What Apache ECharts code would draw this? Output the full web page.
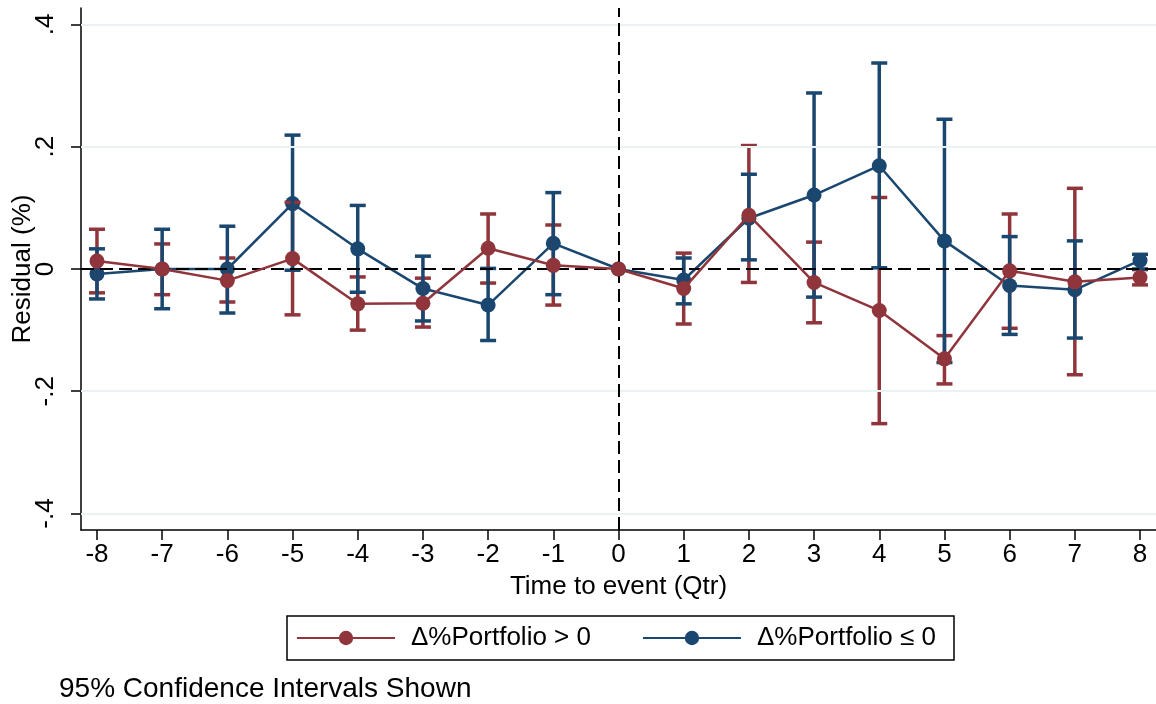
<!DOCTYPE html>
<html lang="en">
<head>
    <meta charset="UTF-8">
    <title>Residual around event</title>
    <script src="https://cdn.jsdelivr.net/npm/echarts@6/dist/echarts.min.js"></script>
    <style>
        body { margin: 0; background: #fff; }
        #main { width: 1156px; height: 704px; }
    </style>
</head>
<body>
<div id="main"></div>
<script>
    // quarters relative to the event
    var quarters = [-8, -7, -6, -5, -4, -3, -2, -1, 0, 1, 2, 3, 4, 5, 6, 7, 8];

    // Δ%Portfolio > 0  (point estimate, 95% CI low / high)
    var redMean = [0.013, 0, -0.019, 0.017, -0.057, -0.056, 0.034, 0.006, 0, -0.032, 0.088, -0.022, -0.068, -0.147, -0.003, -0.021, -0.014];
    var redLo   = [-0.039, -0.042, -0.054, -0.075, -0.100, -0.095, -0.023, -0.059, 0, -0.090, -0.022, -0.088, -0.253, -0.188, -0.097, -0.173, -0.026];
    var redHi   = [0.065, 0.041, 0.018, 0.109, -0.013, -0.015, 0.090, 0.072, 0, 0.026, 0.202, 0.044, 0.117, -0.109, 0.090, 0.132, -0.001];

    // Δ%Portfolio ≤ 0
    var blueMean = [-0.008, 0, 0, 0.107, 0.033, -0.032, -0.059, 0.042, 0, -0.018, 0.083, 0.121, 0.169, 0.046, -0.027, -0.034, 0.014];
    var blueLo   = [-0.049, -0.065, -0.072, -0.002, -0.038, -0.085, -0.117, -0.042, 0, -0.057, 0.015, -0.046, 0.002, -0.153, -0.107, -0.113, 0.000];
    var blueHi   = [0.033, 0.065, 0.070, 0.219, 0.104, 0.021, 0.001, 0.125, 0, 0.018, 0.155, 0.288, 0.337, 0.245, 0.053, 0.046, 0.024];

    var yTicks = [-0.4, -0.2, 0, 0.2, 0.4];
    var yTickLabels = ['-.4', '-.2', '0', '.2', '.4'];
    var gridValues = [-0.4, -0.2, 0.2, 0.4];

    var redName = 'Δ%Portfolio > 0';
    var blueName = 'Δ%Portfolio ≤ 0';
    var red = '#90353B';
    var blue = '#1A476F';
    var font = '"Liberation Sans", Arial, sans-serif';

    function pairs(xs, ys) {
        return xs.map(function (x, i) { return [x, ys[i]]; });
    }
    function ciData(lo, hi) {
        return quarters.map(function (x, i) { return [x, lo[i], hi[i]]; });
    }

    // error bar with caps
    function capRender(color) {
        return function (params, api) {
            var lo = api.value(1), hi = api.value(2);
            if (lo === hi) return;
            var p1 = api.coord([api.value(0), lo]);
            var p2 = api.coord([api.value(0), hi]);
            var w = 8;
            var style = { stroke: color, lineWidth: 3.5 };
            return {
                type: 'group',
                children: [
                    { type: 'line', shape: { x1: p1[0], y1: p1[1], x2: p2[0], y2: p2[1] }, style: style },
                    { type: 'line', shape: { x1: p1[0] - w, y1: p1[1], x2: p1[0] + w, y2: p1[1] }, style: style },
                    { type: 'line', shape: { x1: p2[0] - w, y1: p2[1], x2: p2[0] + w, y2: p2[1] }, style: style }
                ]
            };
        };
    }

    var myChart = echarts.init(document.getElementById('main'));

    var option = {
        animation: false,
        textStyle: { fontFamily: font },
        title: {
            text: '95% Confidence Intervals Shown',
            left: 59,
            top: 675,
            padding: 0,
            textStyle: { fontFamily: font, fontSize: 28, fontWeight: 'normal', color: '#000' }
        },
        legend: {
            data: [redName, blueName],
            left: 287,
            top: 616,
            padding: [9, 18, 9, 9],
            borderColor: '#000',
            borderWidth: 1.5,
            itemWidth: 98,
            itemHeight: 18,
            itemGap: 51,
            textStyle: { fontFamily: font, fontSize: 26, color: '#000', padding: [0, 0, 0, 11] }
        },
        grid: {
            left: 81,
            right: 0,
            top: 8,
            bottom: 174,
            outerBoundsMode: 'none',
            containLabel: false
        },
        xAxis: {
            type: 'value',
            min: -8.245,
            max: 8.245,
            name: 'Time to event (Qtr)',
            nameLocation: 'middle',
            nameGap: 44,
            nameMoveOverlap: false,
            nameTextStyle: { fontFamily: font, fontSize: 26, color: '#000' },
            axisLine: { onZero: false, lineStyle: { color: '#000', width: 1.5 } },
            axisTick: { show: true, length: 10, customValues: quarters, lineStyle: { color: '#000', width: 1.5 } },
            axisLabel: {
                customValues: quarters,
                margin: 12,
                fontSize: 26,
                color: '#000',
                fontFamily: font
            },
            splitLine: { show: false }
        },
        yAxis: {
            type: 'value',
            min: -0.427,
            max: 0.427,
            name: 'Residual (%)',
            nameLocation: 'middle',
            nameGap: 45,
            nameRotate: 90,
            nameMoveOverlap: false,
            nameTextStyle: { fontFamily: font, fontSize: 26, color: '#000' },
            axisLine: { onZero: false, lineStyle: { color: '#000', width: 1.5 } },
            axisTick: { show: true, length: 10, customValues: yTicks, lineStyle: { color: '#000', width: 1.5 } },
            axisLabel: {
                customValues: yTicks,
                rotate: 90,
                margin: 22,
                fontSize: 26,
                color: '#000',
                fontFamily: font,
                formatter: function (v) {
                    var i = yTicks.findIndex(function (t) { return Math.abs(t - v) < 1e-9; });
                    return i >= 0 ? yTickLabels[i] : '';
                }
            },
            splitLine: { show: false }
        },
        series: [
            {
                name: blueName,
                type: 'line',
                z: 2,
                data: pairs(quarters, blueMean),
                symbol: 'circle',
                symbolSize: 15,
                itemStyle: { color: blue },
                lineStyle: { color: blue, width: 2.5 },
                markLine: {
                    silent: true,
                    symbol: 'none',
                    label: { show: false },
                    data: gridValues.map(function (v) {
                        return { yAxis: v, lineStyle: { color: '#EAF2F3', width: 2, type: 'solid' } };
                    }).concat([
                        { yAxis: 0, lineStyle: { color: '#000', width: 2, type: [13, 6] } },
                        { xAxis: 0, lineStyle: { color: '#000', width: 2, type: [13, 6] } }
                    ])
                }
            },
            {
                name: 'redCI',
                type: 'custom',
                z: 3,
                data: ciData(redLo, redHi),
                encode: { x: 0, y: [1, 2] },
                renderItem: capRender(red)
            },
            {
                name: 'blueCI',
                type: 'custom',
                z: 4,
                data: ciData(blueLo, blueHi),
                encode: { x: 0, y: [1, 2] },
                renderItem: capRender(blue)
            },
            {
                name: redName,
                type: 'line',
                z: 5,
                data: pairs(quarters, redMean),
                symbol: 'circle',
                symbolSize: 15,
                itemStyle: { color: red },
                lineStyle: { color: red, width: 2.5 }
            }
        ]
    };

    myChart.setOption(option);
</script>
</body>
</html>
